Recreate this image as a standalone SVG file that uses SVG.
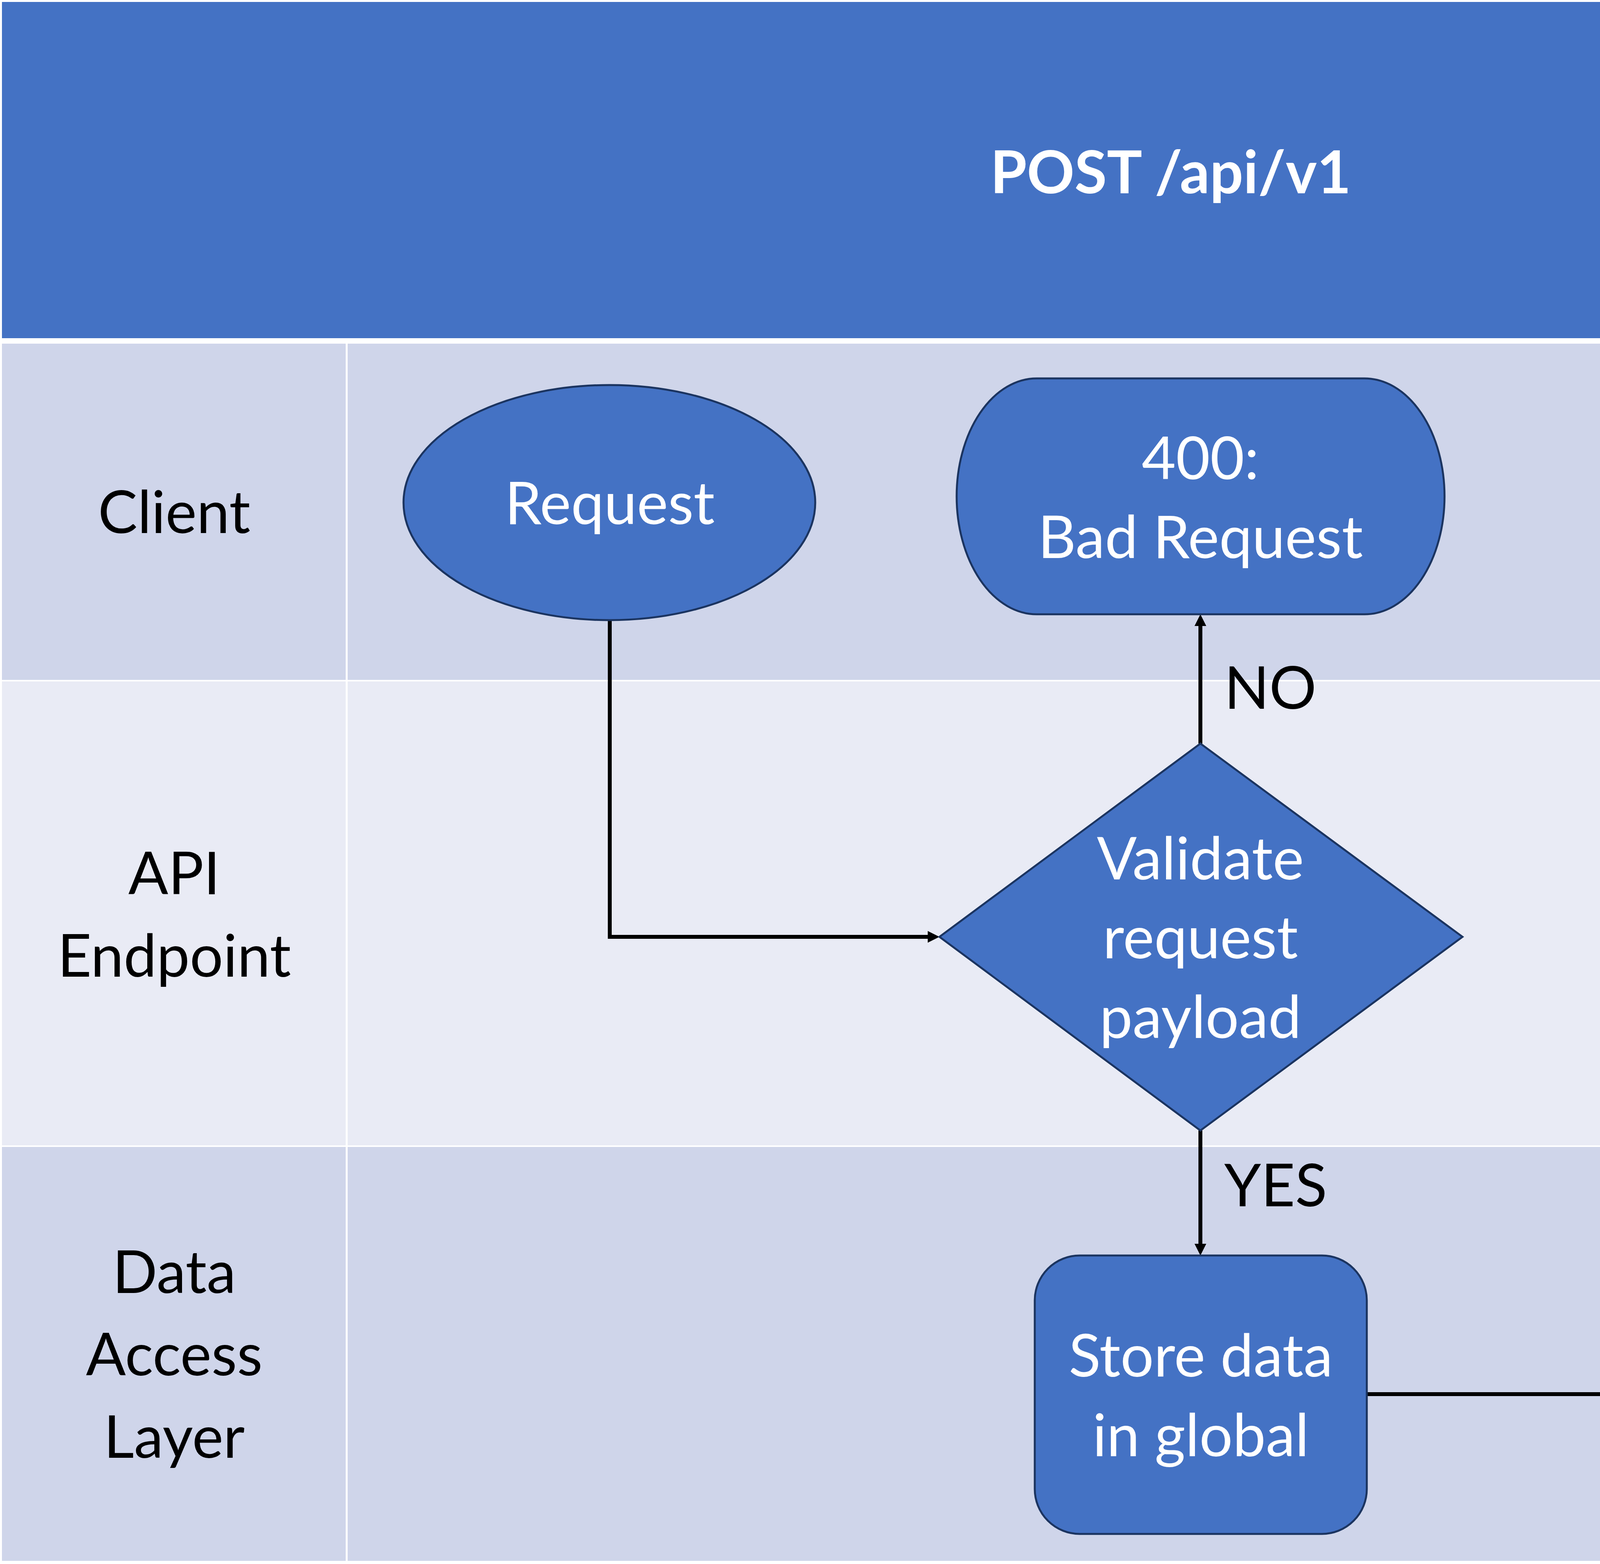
<svg xmlns="http://www.w3.org/2000/svg" width="5998" height="4005" viewBox="0 0 5998 4005">
<style>
.lane1{fill:#CFD5EA}
.lane2{fill:#E9EBF5}
.node{fill:#4472C4;stroke:#1B3460;stroke-width:5}
.nt{font-family:Lato,"Liberation Sans",sans-serif;font-size:151px;fill:#FFFFFF;text-anchor:middle}
.lt{font-family:Lato,"Liberation Sans",sans-serif;font-size:151px;fill:#000000;text-anchor:middle}
.el{font-family:Lato,"Liberation Sans",sans-serif;font-size:151px;fill:#000000}
.title{font-family:Lato,"Liberation Sans",sans-serif;font-size:151px;font-weight:bold;fill:#FFFFFF;text-anchor:middle}
.conn{fill:none;stroke:#000000;stroke-width:10}
</style>
<defs>
<marker id="arr" markerUnits="userSpaceOnUse" markerWidth="30" markerHeight="30" refX="0" refY="15" orient="auto" overflow="visible">
<path d="M0,0 L30,15 L0,30 Z" fill="#000000"/>
</marker>
</defs>
<rect x="0" y="0" width="5998" height="4005" fill="#FFFFFF"/>
<g id="table">
<rect x="5" y="5" width="5982" height="861" fill="#4472C4"/>
<rect class="lane1" x="5" y="880" width="880" height="861"/>
<rect class="lane1" x="890" y="880" width="5097" height="861"/>
<rect class="lane2" x="5" y="1745" width="880" height="1188"/>
<rect class="lane2" x="890" y="1745" width="5097" height="1188"/>
<rect class="lane1" x="5" y="2937" width="880" height="1060"/>
<rect class="lane1" x="890" y="2937" width="5097" height="1060"/>
<text class="title" x="2997" y="495">POST /api/v1</text>
<text class="lt" x="446" y="1365">Client</text>
<text class="lt" x="446" y="2290">API</text>
<text class="lt" x="446" y="2501">Endpoint</text>
<text class="lt" x="446" y="3311">Data</text>
<text class="lt" x="446" y="3522">Access</text>
<text class="lt" x="446" y="3733">Layer</text>
</g>
<g id="connectors">
<path class="conn" d="M1561,1588 L1561,2399 L2375,2399" marker-end="url(#arr)"/>
<path class="conn" d="M3073,1904 L3073,1603" marker-end="url(#arr)"/>
<path class="conn" d="M3073,2895 L3073,3185" marker-end="url(#arr)"/>
<path class="conn" d="M3499,3570 L4809,3570 L4809,2695" marker-end="url(#arr)"/>
<path class="conn" d="M4809,1952 L4809,1603" marker-end="url(#arr)"/>
<text class="el" x="3134" y="1815">NO</text>
<text class="el" x="3134" y="3089">YES</text>
</g>
<g id="request">
<ellipse class="node" cx="1560" cy="1287" rx="527" ry="301"/>
<text class="nt" x="1561" y="1342">Request</text>
</g>
<g id="bad-request">
<rect class="node" x="2449" y="969" width="1249" height="604" rx="205" ry="302"/>
<text class="nt" x="3073" y="1227">400:</text>
<text class="nt" x="3073" y="1429">Bad Request</text>
</g>
<g id="created">
<rect class="node" x="4184" y="969" width="1250" height="604" rx="205" ry="302"/>
<text class="nt" x="4809" y="1228">201:</text>
<text class="nt" x="4809" y="1431">Created</text>
</g>
<g id="validate">
<polygon class="node" points="3073,1904 3744,2399 3073,2895 2405,2399"/>
<text class="nt" x="3073" y="2252">Validate</text>
<text class="nt" x="3073" y="2454">request</text>
<text class="nt" x="3073" y="2658">payload</text>
</g>
<g id="prepare">
<rect class="node" x="4386" y="1952" width="847" height="713" rx="115" ry="115"/>
<text class="nt" x="4809" y="2160">Prepare</text>
<text class="nt" x="4809" y="2364">success</text>
<text class="nt" x="4809" y="2565">response</text>
</g>
<g id="store">
<rect class="node" x="2649" y="3215" width="850" height="713" rx="115" ry="115"/>
<text class="nt" x="3074" y="3525">Store data</text>
<text class="nt" x="3074" y="3729">in global</text>
</g>
</svg>
